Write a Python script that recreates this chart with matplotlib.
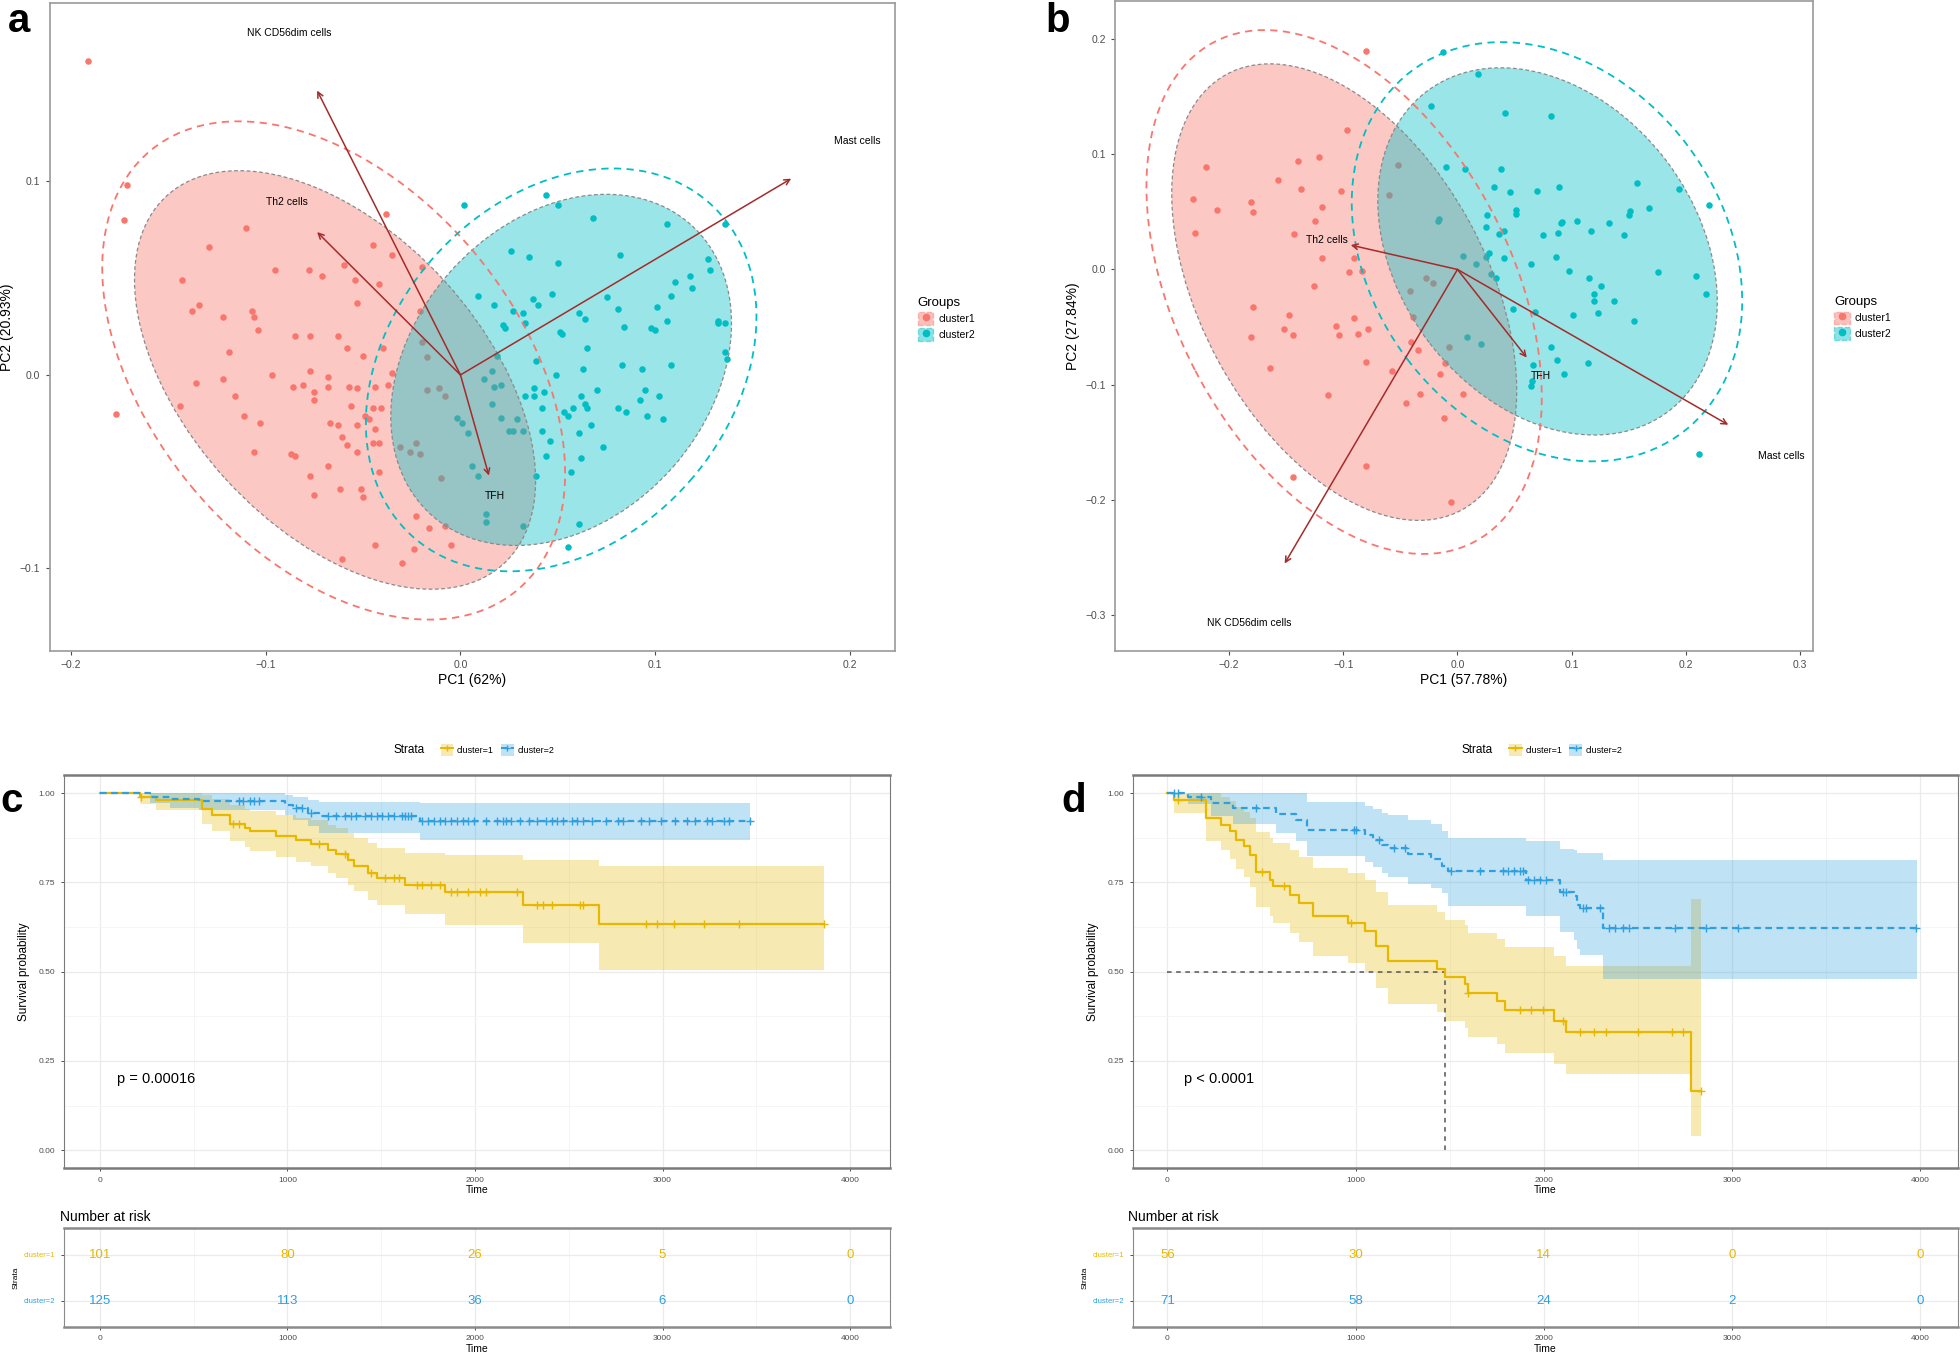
import numpy as np
import matplotlib
matplotlib.use("Agg")
import matplotlib.pyplot as plt
from matplotlib.patches import Ellipse, Patch
from matplotlib.lines import Line2D
from matplotlib.legend_handler import HandlerTuple
from matplotlib.ticker import MultipleLocator

plt.rcParams['font.family'] = ['Liberation Sans', 'DejaVu Sans']

RED, CYAN, ARROW = '#F8766D', '#00BFC4', '#A52A2A'
YEL, BLU = '#E7B800', '#2E9FDF'

# ---------------- panel a : PCA ----------------
a_cluster1 = [(-0.191,0.162),(-0.171,0.098),(-0.173,0.080),(-0.177,-0.020),
 (-0.110,0.076),(-0.129,0.066),(-0.095,0.054),(-0.078,0.054),(-0.071,0.051),(-0.045,0.067),(-0.035,0.062),(-0.060,0.057),(-0.054,0.049),(-0.042,0.047),(-0.020,0.056),(-0.038,0.083),
 (-0.143,0.049),(-0.134,0.036),(-0.138,0.033),(-0.122,0.030),(-0.107,0.033),(-0.106,0.030),(-0.104,0.023),(-0.085,0.020),(-0.077,0.020),(-0.063,0.020),(-0.058,0.014),(-0.050,0.010),(-0.040,0.014),(-0.053,0.037),(-0.021,0.033),
 (-0.119,0.012),(-0.136,-0.004),(-0.122,-0.002),(-0.097,0.000),(-0.086,-0.006),(-0.081,-0.005),(-0.077,0.002),(-0.068,-0.001),(-0.068,-0.006),(-0.057,-0.006),(-0.053,-0.007),(-0.044,-0.006),(-0.035,0.001),(-0.037,-0.005),
 (-0.144,-0.016),(-0.116,-0.011),(-0.111,-0.021),(-0.103,-0.025),(-0.075,-0.009),(-0.075,-0.013),(-0.067,-0.025),(-0.063,-0.026),(-0.056,-0.016),(-0.053,-0.026),(-0.049,-0.021),(-0.047,-0.023),(-0.045,-0.017),(-0.041,-0.017),(-0.044,-0.028),(-0.042,-0.035),(-0.045,-0.035),
 (-0.106,-0.040),(-0.087,-0.041),(-0.085,-0.042),(-0.061,-0.032),(-0.058,-0.036),(-0.053,-0.040),(-0.042,-0.050),(-0.077,-0.052),(-0.075,-0.062),(-0.068,-0.047),(-0.062,-0.059),(-0.051,-0.059),(-0.050,-0.063),(-0.023,-0.073),(-0.016,-0.079),(-0.044,-0.088),(-0.061,-0.095),(-0.005,-0.088),
 (-0.020,0.017),(-0.017,0.009),(-0.011,-0.007),(-0.008,-0.011),(-0.017,-0.008),(-0.031,-0.037),(-0.023,-0.035),(-0.021,-0.041),(-0.026,-0.040),(-0.010,-0.053),(-0.008,-0.078),
 (-0.030,-0.097),(-0.024,-0.090)]
a_cluster2 = [(0.002,0.088),(0.044,0.093),(0.050,0.088),(0.068,0.081),(0.106,0.078),(0.026,0.064),(0.035,0.061),(0.050,0.058),(0.082,0.062),(0.128,0.054),(0.118,0.051),(0.119,0.045),(0.110,0.048),
 (0.009,0.041),(0.017,0.036),(0.027,0.033),(0.037,0.039),(0.040,0.036),(0.047,0.042),(0.061,0.032),(0.064,0.029),(0.075,0.040),(0.081,0.034),(0.101,0.035),(0.106,0.028),(0.108,0.041),
 (0.022,0.026),(0.023,0.024),(0.032,0.032),(0.033,0.027),(0.051,0.022),(0.052,0.021),(0.065,0.014),(0.084,0.025),(0.098,0.024),(0.100,0.023),(0.132,0.027),
 (0.039,0.007),(0.049,0.000),(0.063,0.003),(0.083,0.005),(0.093,0.003),(0.108,0.005),(0.038,-0.007),(0.038,-0.011),(0.043,-0.009),(0.033,-0.011),(0.042,-0.017),(0.062,-0.011),(0.064,-0.015),(0.065,-0.017),(0.058,-0.017),(0.053,-0.019),(0.055,-0.021),(0.070,-0.008),(0.081,-0.017),(0.085,-0.019),(0.092,-0.013),(0.096,-0.021),(0.095,-0.008),(0.102,-0.011),(0.104,-0.023),
 (0.012,-0.002),(0.016,0.002),(0.017,-0.006),(0.021,-0.005),(0.016,-0.015),(0.021,-0.022),(0.029,-0.023),(0.025,-0.029),(0.027,-0.029),(0.032,-0.029),(0.042,-0.029),(0.046,-0.034),(0.061,-0.030),(0.067,-0.026),(0.073,-0.037),(0.039,-0.052),(0.044,-0.042),(0.057,-0.050),(0.062,-0.043),(0.004,-0.030),(0.006,-0.047),(-0.002,-0.022),(0.001,-0.025),(0.009,-0.052),(0.013,-0.072),(0.013,-0.076),(0.032,-0.078),(0.061,-0.077),(0.055,-0.089),(0.019,0.010),
 (0.136,0.078),(0.127,0.060),(0.132,0.028),(0.136,0.027),(0.136,0.012),(0.137,0.008)]
# ellipses: (centre x, centre y, width, height, angle)
a_ellipse_fill = {'cluster1': (-0.0644, -0.0026, 0.257, 0.152, -47.9),
                  'cluster2': (0.0517, 0.0026, 0.2006, 0.1525, 48.9)}
a_ellipse_outer = {'cluster1': (-0.0651, 0.0023, 0.295, 0.189, -50.5),
                   'cluster2': (0.0517, 0.0026, 0.230, 0.175, 49.0)}
a_vars = ['NK CD56dim cells', 'Th2 cells', 'TFH', 'Mast cells']
a_var_tips = [(-0.0736, 0.1469), (-0.0736, 0.0738), (0.0146, -0.052), (0.1698, 0.1014)]
a_var_labels = [(-0.088, 0.1768), (-0.089, 0.0895), (0.0176, -0.0625), (0.2036, 0.1208)]
a_xticks = [-0.2, -0.1, 0.0, 0.1, 0.2]
a_yticks = [-0.1, 0.0, 0.1]

# ---------------- panel b : PCA ----------------
b_cluster1 = [(-0.080,0.190),(-0.097,0.121),(-0.220,0.089),(-0.140,0.094),(-0.121,0.098),(-0.157,0.078),(-0.137,0.070),(-0.102,0.068),(-0.232,0.061),(-0.211,0.052),(-0.181,0.059),(-0.179,0.050),(-0.119,0.054),(-0.125,0.042),(-0.230,0.032),(-0.143,0.031),(-0.119,0.010),(-0.091,0.010),(-0.095,-0.002),(-0.084,-0.001),(-0.126,-0.014),(-0.179,-0.033),(-0.148,-0.040),(-0.091,-0.042),(-0.152,-0.052),(-0.144,-0.057),(-0.181,-0.059),(-0.106,-0.049),(-0.104,-0.057),(-0.087,-0.056),(-0.078,-0.052),(-0.164,-0.086),(-0.080,-0.080),(-0.113,-0.109),(-0.041,-0.063),(-0.035,-0.070),(-0.057,-0.088),(-0.045,-0.116),(-0.033,-0.108),(-0.015,-0.091),(-0.012,-0.129),(0.005,-0.108),(-0.080,-0.171),(-0.144,-0.180),(-0.006,-0.202),
 (-0.052,0.091),(-0.060,0.065),(-0.028,-0.007),(-0.021,-0.012),(-0.042,-0.019),(-0.039,-0.041),(-0.007,-0.067),(-0.011,-0.081)]
b_cluster2 = [(-0.013,0.189),(0.018,0.170),(-0.023,0.142),(0.042,0.136),(0.082,0.133),(-0.010,0.089),(0.007,0.087),(0.038,0.087),(0.032,0.072),(0.046,0.067),(0.070,0.068),(0.089,0.072),(0.157,0.075),(0.194,0.070),(0.220,0.056),(0.051,0.052),(0.051,0.048),(0.151,0.051),(0.150,0.047),(0.168,0.053),(0.026,0.047),(0.092,0.041),(0.091,0.040),(0.105,0.042),(0.133,0.040),(0.025,0.037),(0.036,0.031),(0.041,0.033),(0.075,0.030),(0.088,0.032),(0.117,0.033),(0.146,0.030),(0.028,0.014),(0.025,0.011),(0.041,0.010),(0.064,0.005),(0.086,0.011),(0.098,-0.001),(0.176,-0.002),(0.115,-0.007),(0.126,-0.014),(0.120,-0.021),(0.120,-0.027),(0.137,-0.027),(0.123,-0.038),(0.101,-0.040),(0.155,-0.045),(0.209,-0.006),(0.218,-0.021),(0.034,-0.007),(0.029,-0.004),(0.049,-0.034),(0.068,-0.037),(0.008,-0.059),(0.021,-0.065),(0.082,-0.067),(0.087,-0.079),(0.093,-0.091),(0.114,-0.081),(0.066,-0.083),(0.065,-0.097),(0.064,-0.101),(0.212,-0.160),
 (-0.016,0.044),(-0.017,0.042),(0.005,0.012),(0.016,0.005)]
b_ellipse_fill = {'cluster1': (-0.0992, -0.0197, 0.431, 0.251, -61.3),
                  'cluster2': (0.0789, 0.0157, 0.3495, 0.261, -52.2)}
b_ellipse_outer = {'cluster1': (-0.0993, -0.0196, 0.4905, 0.2944, -62.3),
                   'cluster2': (0.0784, 0.0154, 0.3937, 0.3078, -52.6)}
b_vars = ['NK CD56dim cells', 'Th2 cells', 'TFH', 'Mast cells']
b_var_tips = [(-0.1514, -0.2556), (-0.0935, 0.0212), (0.0607, -0.0766), (0.2372, -0.135)]
b_var_labels = [(-0.182, -0.307), (-0.114, 0.026), (0.0734, -0.0922), (0.284, -0.1619)]
b_xticks = [-0.2, -0.1, 0.0, 0.1, 0.2, 0.3]
b_yticks = [-0.3, -0.2, -0.1, 0.0, 0.1, 0.2]

# ---------------- panel c : KM ----------------
c_c1_time = [0,214,300,542,600,695,771,802,940,1047,1123,1215,1261,1322,1353,1429,1475,1628,1842,2256,2659]
c_c1_surv = [1.0,0.990,0.980,0.955,0.940,0.915,0.902,0.893,0.880,0.868,0.858,0.842,0.830,0.812,0.797,0.777,0.763,0.744,0.724,0.688,0.634]
c_c1_lower = [1.0,0.971,0.953,0.915,0.895,0.865,0.850,0.838,0.822,0.808,0.795,0.776,0.762,0.742,0.725,0.702,0.686,0.663,0.632,0.581,0.504]
c_c1_upper = [1.0,1.0,1.0,0.995,0.985,0.968,0.957,0.950,0.940,0.932,0.925,0.912,0.902,0.888,0.876,0.860,0.848,0.834,0.826,0.813,0.797]
c_c1_end = 3862
c_c1_censor = [220,710,741,1169,1307,1444,1521,1567,1597,1689,1720,1766,1812,1873,1904,1965,2026,2057,2225,2332,2363,2409,2562,2577,2913,2969,3060,3220,3409,3862]
c_c2_time = [0,266,373,526,985,1031,1108,1169,1705]
c_c2_surv = [1.0,0.990,0.983,0.977,0.967,0.958,0.944,0.935,0.923]
c_c2_lower = [1.0,0.972,0.960,0.952,0.938,0.925,0.908,0.890,0.870]
c_c2_upper = [1.0,1.0,1.0,1.0,0.995,0.990,0.982,0.976,0.972]
c_c2_end = 3464
c_c2_censor = [741,765,802,823,848,1047,1077,1123,1215,1261,1307,1337,1368,1414,1444,1475,1506,1536,1567,1613,1628,1643,1659,1720,1751,1781,1812,1842,1873,1904,1934,1965,1995,2057,2118,2148,2164,2194,2240,2286,2332,2378,2409,2439,2470,2516,2546,2577,2623,2699,2760,2791,2883,2929,2990,3066,3128,3174,3235,3265,3327,3357,3464]

# ---------------- panel d : KM ----------------
d_c1_time = [0,37,204,287,333,363,409,439,470,546,561,653,699,775,958,1050,1111,1172,1431,1477,1584,1599,1751,1797,2056,2117,2783]
d_c1_surv = [1.0,0.981,0.930,0.912,0.893,0.870,0.851,0.828,0.779,0.758,0.740,0.716,0.693,0.656,0.637,0.614,0.572,0.530,0.507,0.484,0.465,0.440,0.419,0.393,0.363,0.330,0.167]
d_c1_lower = [1.0,0.945,0.865,0.840,0.815,0.787,0.764,0.737,0.680,0.656,0.636,0.609,0.584,0.544,0.523,0.498,0.453,0.410,0.386,0.362,0.343,0.318,0.297,0.271,0.242,0.212,0.040]
d_c1_upper = [1.0,1.0,1.0,0.990,0.978,0.962,0.948,0.930,0.892,0.876,0.861,0.842,0.822,0.791,0.776,0.757,0.722,0.686,0.666,0.646,0.630,0.609,0.591,0.568,0.543,0.515,0.705]
d_c1_end = 2834
d_c1_censor = [58,500,622,973,1599,1873,1934,1995,2102,2194,2270,2331,2499,2682,2743,2834]
d_c2_time = [0,110,232,348,577,683,744,1050,1095,1141,1172,1278,1400,1461,1492,1904,2087,2163,2178,2194,2316]
d_c2_surv = [1.0,0.990,0.972,0.958,0.942,0.926,0.898,0.884,0.870,0.856,0.847,0.830,0.817,0.797,0.783,0.758,0.723,0.712,0.688,0.679,0.623]
d_c2_lower = [1.0,0.971,0.935,0.913,0.890,0.867,0.823,0.808,0.792,0.776,0.766,0.745,0.735,0.720,0.684,0.655,0.610,0.590,0.565,0.548,0.479]
d_c2_upper = [1.0,1.0,1.0,1.0,1.0,1.0,0.975,0.965,0.955,0.945,0.940,0.925,0.915,0.895,0.875,0.865,0.845,0.840,0.833,0.833,0.812]
d_c2_end = 3985
d_c2_censor = [37,58,180,470,989,1004,1126,1202,1263,1507,1660,1782,1812,1843,1873,1889,1919,1950,1980,2011,2102,2117,2209,2224,2300,2346,2377,2423,2453,2697,2865,3033,3979]
d_median_time = 1477

risk_times = [0, 1000, 2000, 3000, 4000]
c_risk_c1 = [101, 80, 26, 5, 0]
c_risk_c2 = [125, 113, 36, 6, 0]
d_risk_c1 = [56, 30, 14, 0, 0]
d_risk_c2 = [71, 58, 24, 2, 0]
km_yticks = [0.0, 0.25, 0.5, 0.75, 1.0]
km_xticks = [0, 1000, 2000, 3000, 4000]

# ---------------- layout helpers ----------------
W, H = 1568.0, 1086.0
def rect(l, t, r, b):
    return [l / W, 1 - b / H, (r - l) / W, (b - t) / H]

fig = plt.figure(figsize=(19.6, 13.57), dpi=100)
TICKC = '#4D4D4D'
OVERLAY = {tuple: HandlerTuple(ndivide=1)}


def fmt(v, nd):
    s = f"{v:.{nd}f}"
    return s.replace('-', '\u2212')


def pca_panel(ax, c1, c2, efill, eouter, names, tips, labpos, xlim, ylim, xt, yt, xlabel, ylabel, leg_anchor):
    c1 = np.array(c1); c2 = np.array(c2)
    ax.scatter(c1[:, 0], c1[:, 1], s=22, color=RED, linewidths=0, zorder=2)
    ax.scatter(c2[:, 0], c2[:, 1], s=22, color=CYAN, linewidths=0, zorder=2)
    for key, col in (('cluster1', RED), ('cluster2', CYAN)):
        cx, cy, w, h, ang = efill[key]
        ax.add_patch(Ellipse((cx, cy), w, h, angle=ang, facecolor=col, alpha=0.4,
                             edgecolor='none', zorder=3))
        ax.add_patch(Ellipse((cx, cy), w, h, angle=ang, facecolor='none', edgecolor='#8a8a8a',
                             lw=0.9, ls=(0, (3, 2)), zorder=3.5))
    for key, col in (('cluster1', RED), ('cluster2', CYAN)):
        cx, cy, w, h, ang = eouter[key]
        ax.add_patch(Ellipse((cx, cy), w, h, angle=ang, facecolor='none', edgecolor=col,
                             lw=1.3, ls=(0, (4, 3)), zorder=4))
    for nm, tp, lp in zip(names, tips, labpos):
        ax.annotate('', xy=tp, xytext=(0, 0),
                    arrowprops=dict(arrowstyle='->', color=ARROW, lw=1.1, mutation_scale=10,
                                    shrinkA=0, shrinkB=0), zorder=5)
        ax.text(lp[0], lp[1], nm, fontsize=7.5, ha='center', va='center', color='black', zorder=6)
    ax.set_xlim(xlim); ax.set_ylim(ylim)
    ax.set_xticks(xt); ax.set_xticklabels([fmt(v, 1) for v in xt])
    ax.set_yticks(yt); ax.set_yticklabels([fmt(v, 1) for v in yt])
    ax.tick_params(labelsize=7.5, colors=TICKC, length=3, width=0.8)
    for sp in ax.spines.values():
        sp.set_color('#9a9a9a'); sp.set_linewidth(1.2)
    ax.set_xlabel(xlabel, fontsize=10, labelpad=2)
    ax.set_ylabel(ylabel, fontsize=10, labelpad=4)
    handles = [(Patch(facecolor=RED, alpha=0.45, edgecolor=RED, ls='--', lw=1.0),
                Line2D([0], [0], marker='o', color=RED, ls='none', ms=4.5)),
               (Patch(facecolor=CYAN, alpha=0.45, edgecolor=CYAN, ls='--', lw=1.0),
                Line2D([0], [0], marker='o', color=CYAN, ls='none', ms=4.5))]
    ax.legend(handles, ['cluster1', 'cluster2'], title='Groups', loc='upper left',
              bbox_to_anchor=leg_anchor, frameon=False, fontsize=7.5, title_fontsize=9.5,
              handler_map=OVERLAY, handlelength=1.5, handleheight=1.5, handletextpad=0.5,
              labelspacing=0.3, borderaxespad=0, alignment='left')


axa = fig.add_axes(rect(39.6, 2.3, 716, 520.8))
pca_panel(axa, a_cluster1, a_cluster2, a_ellipse_fill, a_ellipse_outer, a_vars, a_var_tips,
          a_var_labels, (-0.211, 0.2231), (-0.1425, 0.1922), a_xticks, a_yticks,
          'PC1 (62%)', 'PC2 (20.93%)', (1.022, 0.552))

axb = fig.add_axes(rect(892, 1.1, 1450, 520.8))
pca_panel(axb, b_cluster1, b_cluster2, b_ellipse_fill, b_ellipse_outer, b_vars, b_var_tips,
          b_var_labels, (-0.300, 0.311), (-0.3314, 0.233), b_xticks, b_yticks,
          'PC1 (57.78%)', 'PC2 (27.84%)', (1.025, 0.552))


def km_panel(ax, groups, xlim, ptext, median=None):
    for g in groups:
        t = np.append(g['time'], g['end'])
        lo = np.append(g['lower'], g['lower'][-1])
        hi = np.append(g['upper'], g['upper'][-1])
        ax.fill_between(t, lo, hi, step='post', color=g['color'], alpha=0.3, lw=0, zorder=1)
    if median is not None:
        ax.plot([0, median], [0.5, 0.5], color='#555555', lw=1.1, ls=(0, (3, 3)), zorder=2)
        ax.plot([median, median], [0, 0.5], color='#555555', lw=1.1, ls=(0, (3, 3)), zorder=2)
    for g in groups:
        t = np.append(g['time'], g['end'])
        s = np.append(g['surv'], g['surv'][-1])
        ax.step(t, s, where='post', color=g['color'], lw=1.6, ls=g['ls'], zorder=3)
        cens = np.array(g['censor'])
        idx = np.searchsorted(np.array(g['time']), cens, side='right') - 1
        ax.plot(cens, np.array(g['surv'])[idx], ls='none', marker='+', ms=5.5, mew=1.0,
                color=g['color'], zorder=4)
    ax.text(90, 0.20, ptext, fontsize=10.5, ha='left', va='center')
    ax.set_xlim(xlim); ax.set_ylim(-0.051, 1.052)
    ax.set_xticks(km_xticks); ax.set_xticklabels([str(v) for v in km_xticks])
    ax.set_yticks(km_yticks); ax.set_yticklabels([f"{v:.2f}" for v in km_yticks])
    ax.xaxis.set_minor_locator(MultipleLocator(500))
    ax.yaxis.set_minor_locator(MultipleLocator(0.125))
    ax.grid(which='major', color='#EBEBEB', lw=0.9)
    ax.grid(which='minor', color='#F4F4F4', lw=0.6)
    ax.set_axisbelow(True)
    ax.tick_params(which='major', labelsize=6, colors=TICKC, length=2.5, width=0.7)
    ax.tick_params(which='minor', length=0)
    for k, sp in ax.spines.items():
        sp.set_color('#7a7a7a')
        sp.set_linewidth(1.8 if k in ('top', 'bottom') else 0.8)
    ax.set_xlabel('Time', fontsize=7.5, labelpad=1)
    ax.set_ylabel('Survival probability', fontsize=8.5, labelpad=6)
    handles = [(Patch(facecolor=g['color'], alpha=0.3, lw=0),
                Line2D([0], [0], color=g['color'], ls=g['ls'], lw=1.4, marker='+', ms=5))
               for g in groups]
    ax.legend(handles, ['cluster=1', 'cluster=2'], loc='center', bbox_to_anchor=(0.525, 1.063),
              ncol=2, frameon=False, fontsize=6.5, handler_map=OVERLAY,
              handlelength=1.4, handleheight=1.6, handletextpad=0.4, columnspacing=0.8)
    ax.text(0.418, 1.063, 'Strata', transform=ax.transAxes, fontsize=8.5, ha='center', va='center')


def risk_panel(ax, xlim, rows):
    ax.set_xlim(xlim); ax.set_ylim(0.43, 2.57)
    cols = [YEL, BLU]
    for yv, vals, col in zip([2, 1], rows, cols):
        for t, v in zip(risk_times, vals):
            ax.text(t, yv, str(v), color=col, fontsize=9.5, ha='center', va='center')
    ax.set_xticks(km_xticks); ax.set_xticklabels([str(v) for v in km_xticks])
    ax.xaxis.set_minor_locator(MultipleLocator(500))
    ax.grid(which='major', color='#EBEBEB', lw=0.9)
    ax.grid(which='minor', axis='x', color='#F4F4F4', lw=0.6)
    ax.set_axisbelow(True)
    ax.tick_params(which='major', labelsize=6, colors=TICKC, length=2.5, width=0.7)
    ax.tick_params(axis='y', labelsize=5.5)
    ax.tick_params(which='minor', length=0)
    ax.set_yticks([2, 1]); ax.set_yticklabels(['cluster=1', 'cluster=2'])
    for lab, col in zip(ax.get_yticklabels(), cols):
        lab.set_color(col)
    for k, sp in ax.spines.items():
        sp.set_color('#8a8a8a')
        sp.set_linewidth(1.8 if k in ('top', 'bottom') else 0.8)
    ax.set_xlabel('Time', fontsize=7.5, labelpad=1)
    ax.set_ylabel('Strata', fontsize=6, labelpad=3)
    ax.set_title('Number at risk', loc='left', fontsize=10, pad=5, x=-0.005)


groups_c = [dict(time=c_c1_time, surv=c_c1_surv, lower=c_c1_lower, upper=c_c1_upper, end=c_c1_end,
                 censor=c_c1_censor, color=YEL, ls='-'),
            dict(time=c_c2_time, surv=c_c2_surv, lower=c_c2_lower, upper=c_c2_upper, end=c_c2_end,
                 censor=c_c2_censor, color=BLU, ls=(0, (3, 2)))]
groups_d = [dict(time=d_c1_time, surv=d_c1_surv, lower=d_c1_lower, upper=d_c1_upper, end=d_c1_end,
                 censor=d_c1_censor, color=YEL, ls='-'),
            dict(time=d_c2_time, surv=d_c2_surv, lower=d_c2_lower, upper=d_c2_upper, end=d_c2_end,
                 censor=d_c2_censor, color=BLU, ls=(0, (3, 2)))]

axc = fig.add_axes(rect(51, 620, 712, 935))
km_panel(axc, groups_c, (-193, 4213), 'p = 0.00016')
axcr = fig.add_axes(rect(51, 983, 712, 1062))
risk_panel(axcr, (-193, 4213), [c_risk_c1, c_risk_c2])

axd = fig.add_axes(rect(906, 620, 1566, 935))
km_panel(axd, groups_d, (-186, 4200), 'p < 0.0001', median=d_median_time)
axdr = fig.add_axes(rect(906, 983, 1566, 1062))
risk_panel(axdr, (-186, 4200), [d_risk_c1, d_risk_c2])

for letter, (x, y) in {'a': (15, 17), 'b': (846, 17), 'c': (9, 641), 'd': (859, 641)}.items():
    fig.text(x / W, 1 - y / H, letter, fontsize=29, fontweight='bold', ha='center', va='center')

fig.savefig('out.png', dpi=100)
